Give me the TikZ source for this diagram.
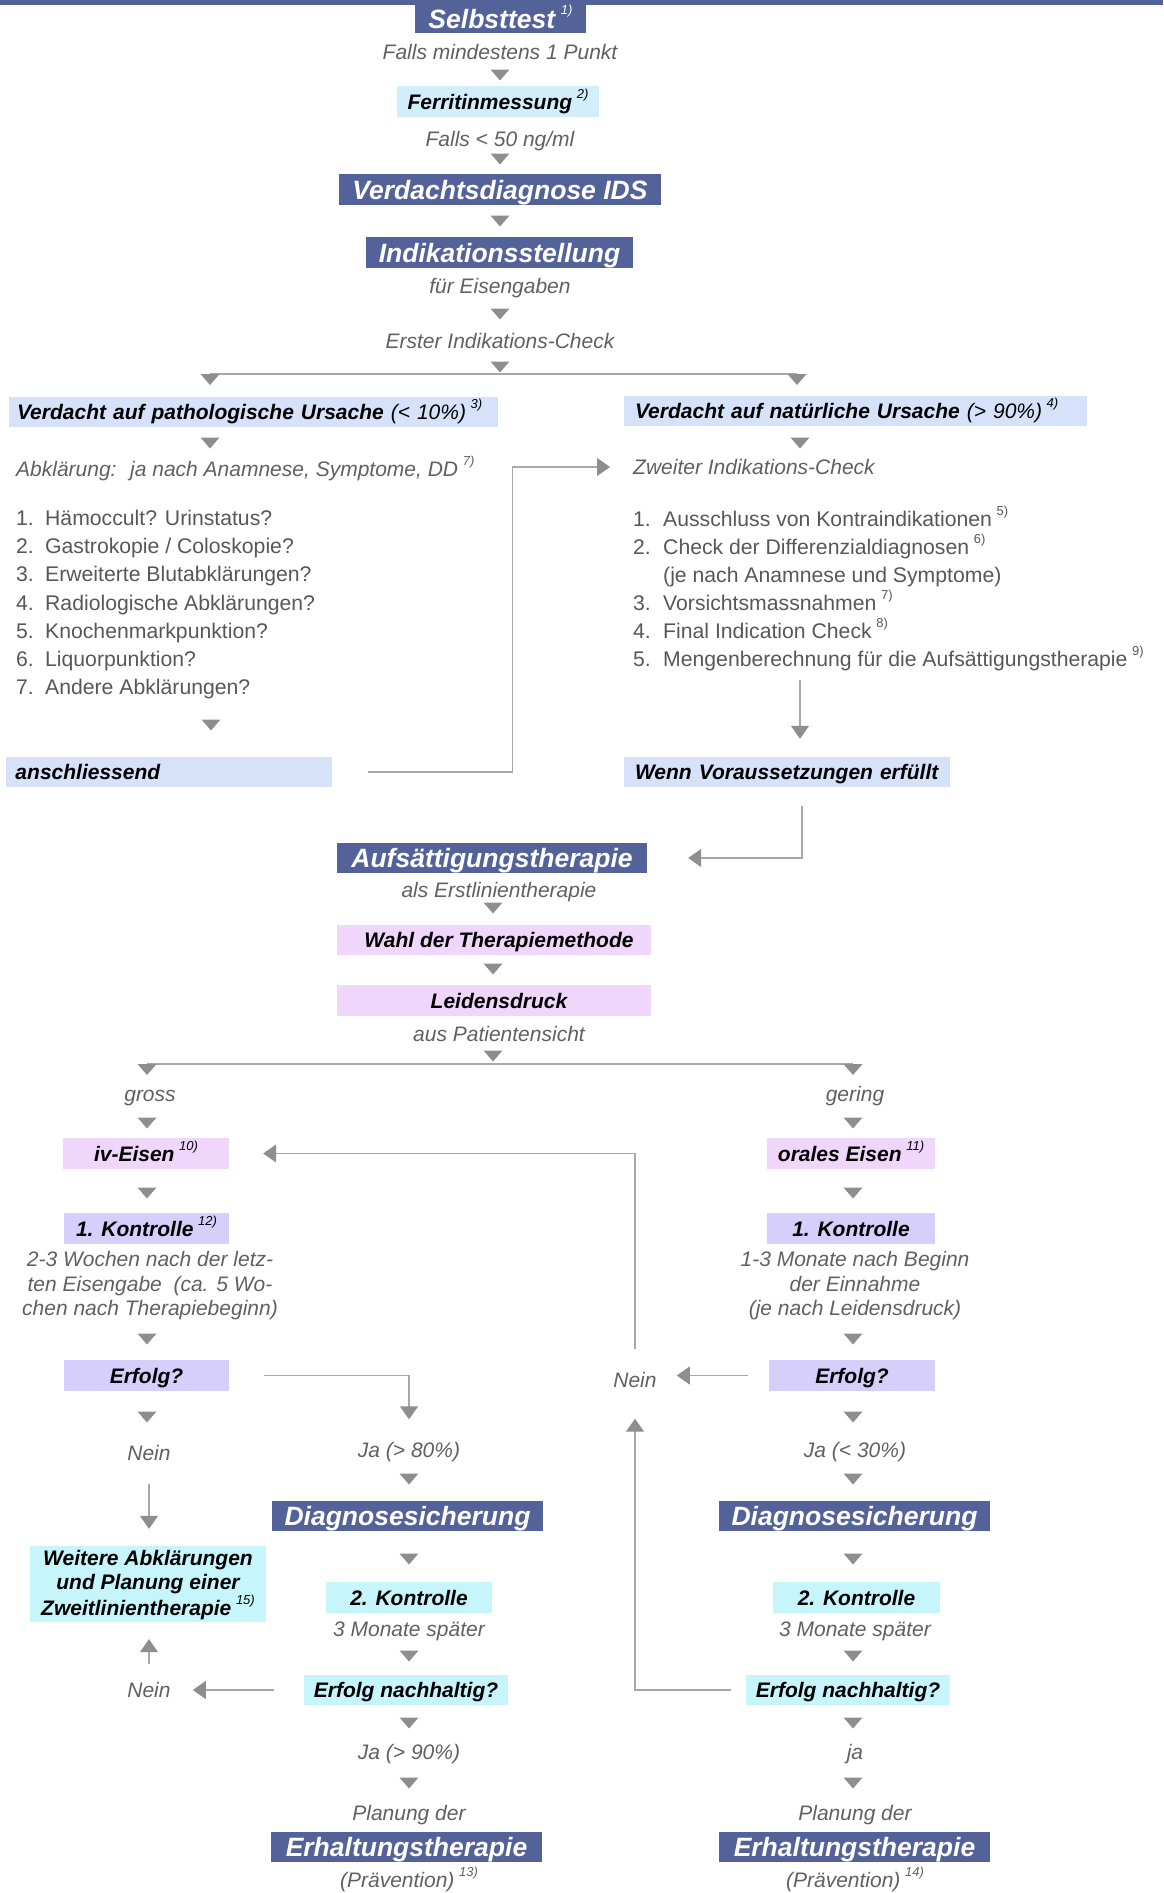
\documentclass[tikz,border=0pt]{standalone}
\usepackage{fontspec}
\setmainfont{Liberation Sans}
\usetikzlibrary{arrows.meta}
\definecolor{dkblue}{HTML}{536299}
\definecolor{ferblue}{HTML}{D3EEFB}
\definecolor{vblue}{HTML}{D6E1FA}
\definecolor{pinkbox}{HTML}{F0D6FA}
\definecolor{lavbox}{HTML}{D6CFFB}
\definecolor{cyanbox}{HTML}{C6F5FC}
\definecolor{gtext}{HTML}{606060}
\definecolor{ltext}{HTML}{575757}
\definecolor{trig}{HTML}{8E8E8E}
\definecolor{lineg}{HTML}{A8A8A8}
\newcommand\fn[1]{\hspace{0.22em}\raisebox{0.52em}{\fontsize{13}{13}\selectfont\mdseries #1}}
\newcommand\tri[2]{\fill[trig] (#1,#2) ++(-9.5,-5.5) -- ++(19,0) -- ++(-9.5,11) -- cycle;}
\tikzset{
 base/.style={inner sep=0pt, text height=15pt, text depth=0pt},
 ttl/.style={base, fill=dkblue, text=white, font=\fontsize{26.5}{30}\selectfont\bfseries\itshape, text height=19pt},
 lbl/.style={base, text=black, font=\fontsize{21}{24}\selectfont\bfseries\itshape},
 lblm/.style={inner sep=0pt, text=black, font=\fontsize{21}{24}\selectfont\bfseries\itshape, align=center},
 gt/.style={base, text=gtext, font=\fontsize{21}{24}\selectfont\itshape},
 gtm/.style={inner sep=0pt, text=gtext, font=\fontsize{21}{24.5}\selectfont\itshape, align=center},
 lt/.style={base, text=ltext, font=\fontsize{21.2}{28}\selectfont, anchor=west},
 bx/.style 2 args={minimum width=#1pt, minimum height=#2pt},
 conn/.style={draw=lineg, line width=1.3pt, -{Triangle[width=18pt,length=13pt,color=trig]}},
 ln/.style={draw=lineg, line width=1.3pt},
}
\begin{document}
\begin{tikzpicture}[x=1pt,y=-1pt]
\useasboundingbox (0,0) rectangle (1163,1893);
\fill[dkblue] (0,0) rectangle (1163,5);

% top column
\node[ttl,bx={171}{29}] (sel) at (500.5,18.5) {Selbsttest\fn{1)}};
\node[gt] (t1) at (500,52) {Falls mindestens 1 Punkt};
\tri{500}{75}
\node[lbl,fill=ferblue,bx={202}{31}] (fer) at (498,101.5) {Ferritinmessung\fn{2)}};
\node[gt] (t2) at (500,139) {Falls < 50 ng/ml};
\tri{500}{159}
\node[ttl,bx={322}{31}] (vd) at (500,189.5) {Verdachtsdiagnose IDS};
\tri{500}{221}
\node[ttl,bx={267}{31}] (ind) at (499.5,252.5) {Indikationsstellung};
\node[gt] (t3) at (500,286) {für Eisengaben};
\tri{500}{314}
\node[gt] (t4) at (500,341) {Erster Indikations-Check};
\tri{500}{367}
\coordinate (brL) at (210,374);
\coordinate (brR) at (797,374);
\draw[ln] (brL) -- (brR);
\tri{210}{379.5}
\tri{797}{379.5}

% left branch
\node[lbl,fill=vblue,minimum height=30pt,inner xsep=8.5pt,text width=472pt,align=left] (lv) at (253,412) {Verdacht auf pathologische Ursache {\mdseries(< 10\%)}\fn{3)}};
\tri{210}{443}
\node[gt,anchor=west] (abk) at (16,469) {Abklärung:~ ja nach Anamnese, Symptome, DD\fn{7)}};
\node[lt] (l1) at (16,518) {\makebox[29pt][l]{1.}Hämoccult? Urinstatus?};
\node[lt] (l2) at (16,546.2) {\makebox[29pt][l]{2.}Gastrokopie / Coloskopie?};
\node[lt] (l3) at (16,574.4) {\makebox[29pt][l]{3.}Erweiterte Blutabklärungen?};
\node[lt] (l4) at (16,602.6) {\makebox[29pt][l]{4.}Radiologische Abklärungen?};
\node[lt] (l5) at (16,630.8) {\makebox[29pt][l]{5.}Knochenmarkpunktion?};
\node[lt] (l6) at (16,659) {\makebox[29pt][l]{6.}Liquorpunktion?};
\node[lt] (l7) at (16,687.2) {\makebox[29pt][l]{7.}Andere Abklärungen?};
\tri{211}{725}
\node[lbl,fill=vblue,minimum height=30pt,inner xsep=9.5pt,text width=307pt,align=left] (ans) at (169,772) {anschliessend};

% right branch
\node[lbl,fill=vblue,minimum height=30pt,inner xsep=11pt,text width=441pt,align=left] (rv) at (855.5,411) {Verdacht auf natürliche Ursache {\mdseries(> 90\%)}\fn{4)}};
\tri{800}{443}
\node[gt,anchor=west] (zw) at (633,467) {Zweiter Indikations-Check};
\node[lt] (r1) at (633,519) {\makebox[30pt][l]{1.}Ausschluss von Kontraindikationen\fn{5)}};
\node[lt] (r2) at (633,547) {\makebox[30pt][l]{2.}Check der Differenzialdiagnosen\fn{6)}};
\node[lt] (r2b) at (663,575) {(je nach Anamnese und Symptome)};
\node[lt] (r3) at (633,603) {\makebox[30pt][l]{3.}Vorsichtsmassnahmen\fn{7)}};
\node[lt] (r4) at (633,631) {\makebox[30pt][l]{4.}Final Indication Check\fn{8)}};
\node[lt] (r5) at (633,659) {\makebox[30pt][l]{5.}Mengenberechnung für die Aufsättigungstherapie\fn{9)}};
\coordinate (rlend) at (800,680);
\node[lbl,fill=vblue,minimum height=30pt,inner xsep=11pt,text width=304pt,align=left] (wenn) at (787,772) {Wenn Voraussetzungen erfüllt};
\draw[conn,shorten >=18pt] (rlend) -- (rlend |- wenn.north);

% middle
\node[ttl,bx={310}{30}] (auf) at (492,858) {Aufsättigungstherapie};
\draw[conn] ([xshift=36pt]ans.east) -- ++(144,0) |- ([xshift=-23pt]zw.west);
\draw[conn] ([xshift=15pt,yshift=-19pt]wenn.south) |- ([xshift=41pt]auf.east);
\node[gt] (t5) at (499,890) {als Erstlinientherapie};
\tri{493}{908}
\node[lbl,fill=pinkbox,bx={314}{30}] (wahl) at (494,940) {\hspace*{10pt}Wahl der Therapiemethode};
\tri{493}{969}
\node[lbl,fill=pinkbox,bx={314}{31}] (leid) at (494,1000.5) {\hspace*{10pt}Leidensdruck};
\node[gt] (t6) at (499,1034) {aus Patientensicht};
\tri{493}{1056}
\coordinate (br2L) at (147,1064);
\coordinate (br2R) at (853,1064);
\draw[ln] (br2L) -- (br2R);
\tri{147}{1069.5}
\tri{853}{1069.5}
\node[gt] (gross) at (150,1094) {gross};
\node[gt] (gering) at (855,1094) {gering};
\tri{147}{1123}
\tri{853}{1123}

% two columns
\node[lbl,fill=pinkbox,bx={166}{31}] (iv) at (146,1153.5) {iv-Eisen\fn{10)}};
\node[lbl,fill=pinkbox,bx={168}{31}] (ore) at (851,1153.5) {orales Eisen\fn{11)}};
\tri{147}{1193}
\tri{853}{1193}
\node[lbl,fill=lavbox,bx={165}{31}] (k1L) at (146.5,1228.5) {1. Kontrolle\fn{12)}};
\node[lbl,fill=lavbox,bx={168}{31}] (k1R) at (851,1228.5) {1. Kontrolle};
\node[gtm] (k1Lt) at (150,1286) {2-3 Wochen nach der letz-\\ten Eisengabe~ (ca. 5 Wo-\\chen nach Therapiebeginn)};
\node[gtm] (k1Rt) at (855,1286) {1-3 Monate nach Beginn\\der Einnahme\\(je nach Leidensdruck)};
\tri{147}{1339}
\tri{853}{1339}
\node[lbl,fill=lavbox,bx={165}{31}] (eL) at (146.5,1375.5) {Erfolg?};
\node[lbl,fill=lavbox,bx={166}{31}] (eR) at (852,1375.5) {Erfolg?};
\node[gt] (neinR) at (635,1380) {Nein};
\tri{147}{1417}
\tri{853}{1417}
\node[gt] (neinL) at (149,1453) {Nein};
\node[gt] (jaL) at (409,1450) {Ja (> 80\%)};
\node[gt] (jaR) at (855,1450) {Ja (< 30\%)};
\tri{409}{1479}
\tri{853}{1479}
\node[ttl,bx={271}{30}] (dL) at (407.5,1516) {Diagnosesicherung};
\node[ttl,bx={271}{30}] (dR) at (854.5,1516) {Diagnosesicherung};
\node[lblm,fill=cyanbox,bx={236}{76}] (weit) at (148,1584) {\rule{0pt}{17pt}Weitere Abklärungen\\und Planung einer\\Zweitlinientherapie\fn{15)}};
\tri{409}{1559}
\tri{853}{1559}
\node[lbl,fill=cyanbox,bx={166}{31}] (k2L) at (409,1597.5) {2. Kontrolle};
\node[lbl,fill=cyanbox,bx={167}{31}] (k2R) at (856.5,1597.5) {2. Kontrolle};
\node[gt] (m3L) at (409,1629) {3 Monate später};
\node[gt] (m3R) at (855,1629) {3 Monate später};
\tri{409}{1656}
\tri{853}{1656}
\node[lbl,fill=cyanbox,bx={204}{30}] (enL) at (406,1690) {Erfolg nachhaltig?};
\node[lbl,fill=cyanbox,bx={204}{30}] (enR) at (848,1690) {Erfolg nachhaltig?};
\node[gt] (nein2) at (149,1690) {Nein};
\tri{409}{1723}
\tri{853}{1723}
\node[gt] (ja2L) at (409,1752) {Ja (> 90\%)};
\node[gt] (ja2R) at (855,1752) {ja};
\tri{409}{1783}
\tri{853}{1783}
\node[gt] (plL) at (409,1813) {Planung der};
\node[gt] (plR) at (855,1813) {Planung der};
\node[ttl,bx={271}{30}] (erhL) at (406.5,1847) {Erhaltungstherapie};
\node[ttl,bx={271}{30}] (erhR) at (854.5,1847) {Erhaltungstherapie};
\node[gt] (prL) at (409,1880) {(Prävention)\fn{13)}};
\node[gt] (prR) at (855,1880) {(Prävention)\fn{14)}};

% connectors
\draw[conn] ([xshift=-21pt]eR.west) -- ([xshift=20pt]neinR.east |- eR.west);
\draw[conn] ([yshift=23pt]neinR.north) |- ([xshift=34pt]iv.east);
\draw[conn] ([xshift=35pt]eL.east) -| ([yshift=23pt]jaL.north);
\draw[conn,shorten <=23pt,shorten >=17pt] (neinL.south) -- (neinL.south |- weit.north);
\draw[conn] ([xshift=-30pt]enL.west) -- ([xshift=22pt]nein2.east);
\draw[conn,shorten <=18pt,shorten >=17pt] (nein2.north) -- (nein2.north |- weit.south);
\draw[conn] ([xshift=-15pt]enR.west) -| ([yshift=-31pt]neinR.south);
\end{tikzpicture}
\end{document}
